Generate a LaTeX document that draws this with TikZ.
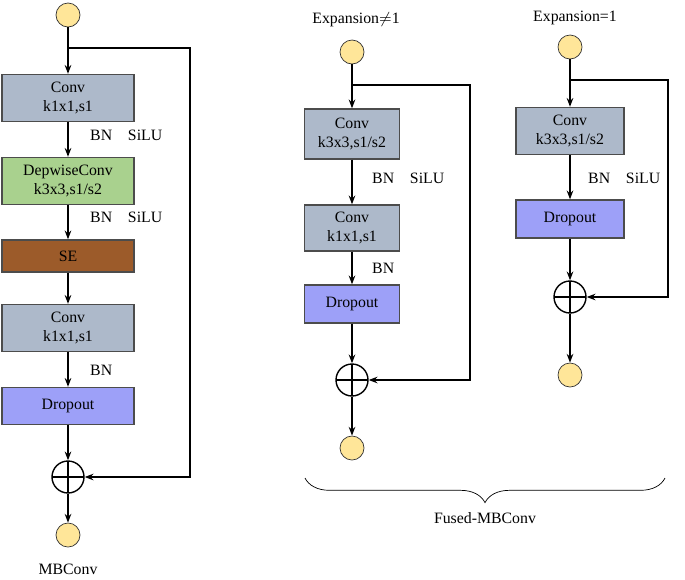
\documentclass[tikz,border=0pt]{standalone}
\usepackage{fontspec}
\setmainfont{Liberation Serif}
\usetikzlibrary{arrows.meta,decorations.pathreplacing}
\definecolor{convblue}{HTML}{ADB9CA}
\definecolor{dwgreen}{HTML}{A9D18E}
\definecolor{sebrown}{HTML}{9C5B2A}
\definecolor{dropblue}{HTML}{9DA0F8}
\definecolor{ioyellow}{HTML}{FFE699}
\tikzset{
  box/.style={draw=black!70, thick, minimum width=#1, align=center, inner sep=1pt, font=\small},
  io/.style={circle, draw=black!80, fill=ioyellow, minimum size=24*0.02cm, inner sep=0pt},
  plus/.style={circle, draw=black, thick, minimum size=32*0.02cm, inner sep=0pt,
    path picture={\draw[thick] (path picture bounding box.north) -- (path picture bounding box.south)
      (path picture bounding box.west) -- (path picture bounding box.east);}},
  lbl/.style={font=\small, anchor=west},
  arr/.style={-{Stealth[length=5pt]}, thick}
}
\begin{document}
\begin{tikzpicture}[x=0.02cm, y=-0.02cm]
  \useasboundingbox (0,0) rectangle (685,579);

  % MBConv
  \node[io] (a0) at (68,15) {};
  \node[box=132*0.02cm, minimum height=47*0.02cm, fill=convblue] (a1) at (68,98) {Conv\\k1x1,s1};
  \node[box=132*0.02cm, minimum height=47*0.02cm, fill=dwgreen] (a2) at (68,181) {DepwiseConv\\k3x3,s1/s2};
  \node[box=132*0.02cm, minimum height=32*0.02cm, fill=sebrown] (a3) at (68,256) {SE};
  \node[box=132*0.02cm, minimum height=47*0.02cm, fill=convblue] (a4) at (68,328) {Conv\\k1x1,s1};
  \node[box=132*0.02cm, minimum height=37*0.02cm, fill=dropblue] (a5) at (68,406) {Dropout};
  \node[plus] (ap) at (68,477) {};
  \node[io] (a6) at (68,535) {};
  \node[font=\small] at (68,569) {MBConv};
  \node[lbl] at (84,135) {BN\quad SiLU};
  \node[lbl] at (84,217) {BN\quad SiLU};
  \node[lbl] at (84,370) {BN};
  \draw[arr] (a0) -- (a1);
  \draw[arr] (a1) -- (a2);
  \draw[arr] (a2) -- (a3);
  \draw[arr] (a3) -- (a4);
  \draw[arr] (a4) -- (a5);
  \draw[arr] (a5) -- (ap);
  \draw[arr] (ap) -- (a6);
  \draw[arr] (68,48) -| (190,477) -- (ap);

  % Fused-MBConv, expansion != 1
  \node[font=\small] at (356,20) {Expansion$\neq$1};
  \node[io] (b0) at (352,52) {};
  \node[box=95*0.02cm, minimum height=50*0.02cm, fill=convblue] (b1) at (352,134) {Conv\\k3x3,s1/s2};
  \node[box=95*0.02cm, minimum height=46*0.02cm, fill=convblue] (b2) at (352,228) {Conv\\k1x1,s1};
  \node[box=95*0.02cm, minimum height=38*0.02cm, fill=dropblue] (b3) at (352,304) {Dropout};
  \node[plus] (bp) at (352,380) {};
  \node[io] (b4) at (352,448) {};
  \node[lbl] at (366,178) {BN\quad SiLU};
  \node[lbl] at (366,268) {BN};
  \draw[arr] (b0) -- (b1);
  \draw[arr] (b1) -- (b2);
  \draw[arr] (b2) -- (b3);
  \draw[arr] (b3) -- (bp);
  \draw[arr] (bp) -- (b4);
  \draw[arr] (352,85) -| (470,380) -- (bp);

  % Fused-MBConv, expansion = 1
  \node[font=\small] at (575,18) {Expansion=1};
  \node[io] (c0) at (570,47) {};
  \node[box=108*0.02cm, minimum height=47*0.02cm, fill=convblue] (c1) at (570,131) {Conv\\k3x3,s1/s2};
  \node[box=108*0.02cm, minimum height=38*0.02cm, fill=dropblue] (c2) at (570,219) {Dropout};
  \node[plus] (cp) at (570,297) {};
  \node[io] (c3) at (570,375) {};
  \node[lbl] at (582,178) {BN\quad SiLU};
  \draw[arr] (c0) -- (c1);
  \draw[arr] (c1) -- (c2);
  \draw[arr] (c2) -- (cp);
  \draw[arr] (cp) -- (c3);
  \draw[arr] (570,80) -| (668,297) -- (cp);

  \draw[decorate, decoration={brace, mirror, amplitude=14pt}] (305,478) -- (665,478);
  \node[font=\small] at (485,518) {Fused-MBConv};
\end{tikzpicture}
\end{document}
